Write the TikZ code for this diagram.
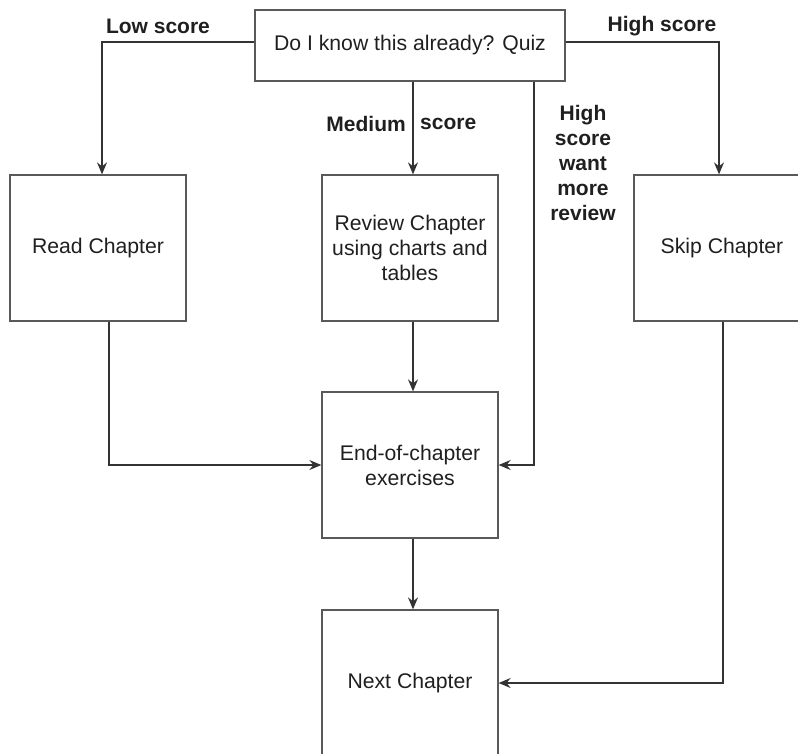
\documentclass[tikz,border=0pt]{standalone}
\usepackage{fontspec}
\setmainfont{Liberation Sans}
\usetikzlibrary{arrows.meta,calc}
\begin{document}
\begin{tikzpicture}[x=1pt,y=-1pt,
  box/.style={draw=black!65,line width=1.3pt,minimum width=176pt,minimum height=146pt,
    align=center,inner sep=0pt,text=black!88,font=\fontsize{21.2}{25}\selectfont},
  lbl/.style={align=center,inner sep=0pt,text=black!88,font=\fontsize{21}{25}\selectfont\bfseries},
  arr/.style={draw=black!80,line width=1.3pt,-{Stealth[length=12pt,width=10pt,inset=4pt]}}]
\useasboundingbox (0,0) rectangle (798,753);

% boxes
\node[box,minimum width=310pt,minimum height=71pt] (quiz) at (410,45.5) {Do I know this already? Quiz};
\node[box] (read)   at (98,248)  {Read Chapter};
\node[box] (review) at (410,248) {Review Chapter\\using charts and\\tables};
\node[box] (skip)   at (722,248) {Skip Chapter};
\node[box] (end)    at (410,465) {End-of-chapter\\exercises};
\node[box] (next)   at (410,683) {Next Chapter};

% labels
\node[lbl] (lowlbl)  at (158,26) {Low score};
\node[lbl] (highlbl) at (662,26) {High score};
\node[lbl,anchor=east] (medlbl) at (406,124) {Medium};
\node[lbl,anchor=west] (medlblb) at (420,124) {score};
\node[lbl] (morelbl) at (583,163) {High\\score\\want\\more\\review};

% connectors
\draw[arr] ([yshift=3.5pt]quiz.west) -| ([xshift=4pt]read.north);
\draw[arr] ([yshift=3.5pt]quiz.east) -| ([xshift=-3pt]skip.north);
\draw[arr] ([xshift=3pt]quiz.south) -- ([xshift=3pt]review.north);
\draw[arr] ([xshift=124pt]quiz.south) |- (end.east);
\draw[arr] ([xshift=11pt]read.south) |- (end.west);
\draw[arr] ([xshift=3pt]review.south) -- ([xshift=3pt]end.north);
\draw[arr] ([xshift=3pt]end.south) -- ([xshift=3pt]next.north);
\draw[arr] ([xshift=1pt]skip.south) |- (next.east);
\end{tikzpicture}
\end{document}
